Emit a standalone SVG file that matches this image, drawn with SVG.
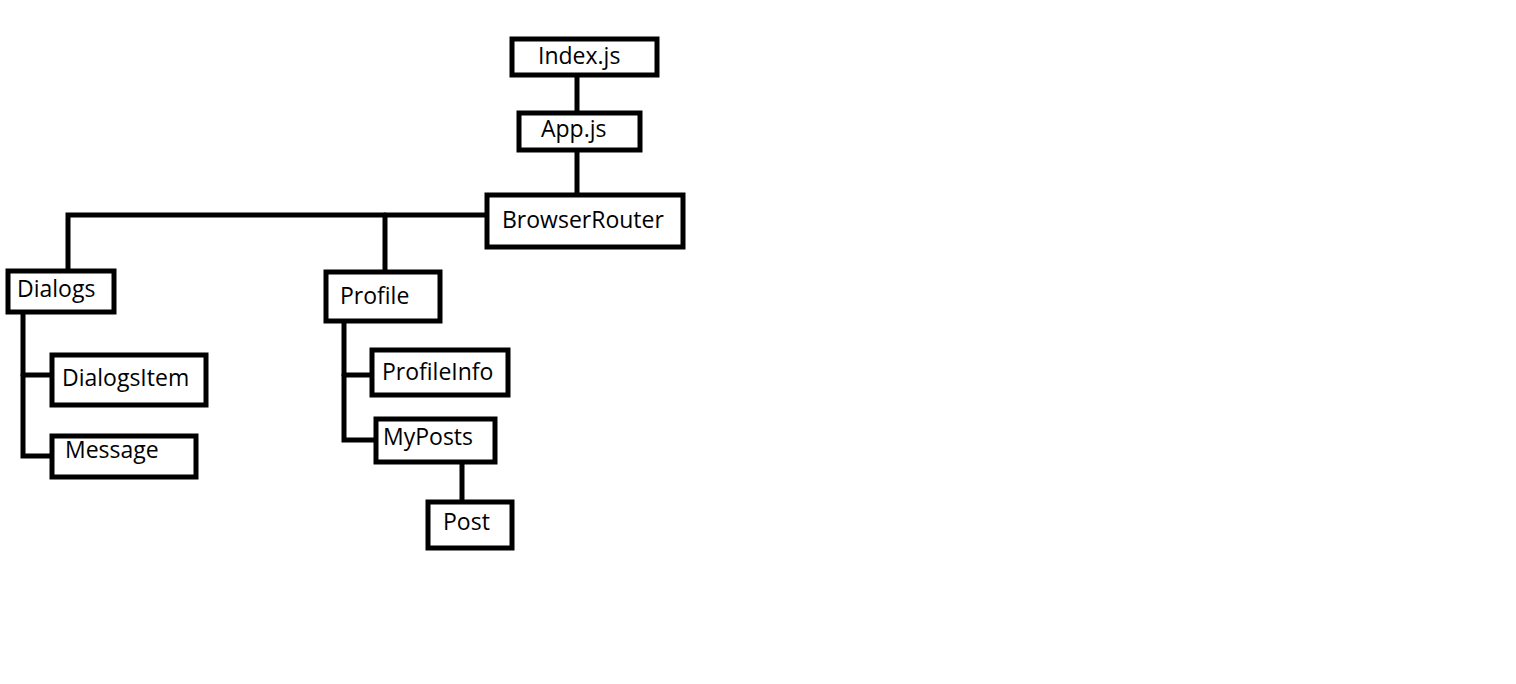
<svg xmlns="http://www.w3.org/2000/svg" width="1516" height="684" viewBox="0 0 1516 684">
<style>
.box{fill:#fff;stroke:#000;stroke-width:5}
.lbl{font-family:"Open Sans","Noto Sans","Liberation Sans",sans-serif;font-size:23px;fill:#000}
.ln{fill:none;stroke:#000;stroke-width:5;stroke-linecap:round;stroke-linejoin:miter}
</style>
<rect width="1516" height="684" fill="#fff"/>
<g id="connectors">
<path class="ln" d="M577 76 V113"/>
<path class="ln" d="M577 150 V193"/>
<path class="ln" d="M487 215 H68 V272"/>
<path class="ln" d="M385 215 V271"/>
<path class="ln" d="M23 313 V456 H51"/>
<path class="ln" d="M23 375 H51"/>
<path class="ln" d="M344 322 V440 H374"/>
<path class="ln" d="M344 375 H371"/>
<path class="ln" d="M462 463 V502"/>
</g>
<g id="index"><rect class="box" x="512" y="39" width="145" height="36"/><text class="lbl" x="538" y="64">Index.js</text></g>
<g id="app"><rect class="box" x="519" y="113" width="121" height="37"/><text class="lbl" x="541" y="137">App.js</text></g>
<g id="browserrouter"><rect class="box" x="487" y="195" width="196" height="52"/><text class="lbl" x="502" y="228">BrowserRouter</text></g>
<g id="dialogs"><rect class="box" x="8" y="271" width="106" height="41"/><text class="lbl" x="17" y="297">Dialogs</text></g>
<g id="dialogsitem"><rect class="box" x="52" y="355" width="154" height="50"/><text class="lbl" x="62" y="386">DialogsItem</text></g>
<g id="message"><rect class="box" x="52" y="436" width="144" height="41"/><text class="lbl" x="65" y="458">Message</text></g>
<g id="profile"><rect class="box" x="326" y="272" width="114" height="49"/><text class="lbl" x="340" y="304">Profile</text></g>
<g id="profileinfo"><rect class="box" x="372" y="350" width="136" height="45"/><text class="lbl" x="382" y="380">ProfileInfo</text></g>
<g id="myposts"><rect class="box" x="376" y="419" width="119" height="43"/><text class="lbl" x="383" y="445">MyPosts</text></g>
<g id="post"><rect class="box" x="428" y="502" width="84" height="46"/><text class="lbl" x="443" y="530">Post</text></g>
</svg>
